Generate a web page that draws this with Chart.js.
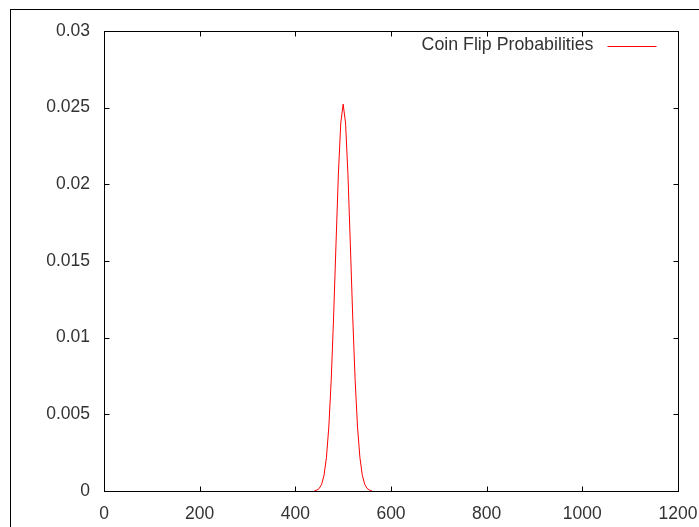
<!DOCTYPE html>
<html>
<head>
<meta charset="utf-8">
<script src="https://cdn.jsdelivr.net/npm/chart.js@4.4.1/dist/chart.umd.min.js"></script>
<style>
  body { margin: 0; background: #fff; }
  #wrap { position: relative; width: 699px; height: 527px; overflow: hidden; }
  #frame { position: absolute; left: 10px; top: 9px; right: 0; bottom: 0; border-top: 1px solid #000; border-left: 1px solid #000; }
  canvas { position: absolute; left: 0; top: 0; }
</style>
</head>
<body>
<div id="wrap">
  <div id="frame"></div>
  <canvas id="chart" width="699" height="527"></canvas>
</div>
<script>
// heads flipped out of 1000
const flips = [440, 445, 450, 455, 460, 465, 470, 475, 480, 485, 490, 495, 500,
               505, 510, 515, 520, 525, 530, 535, 540, 545, 550, 555, 560];
const probs = [0.00002, 0.00006, 0.00017, 0.00044, 0.00103, 0.00218, 0.00417, 0.00723,
               0.01134, 0.01609, 0.02066, 0.02400, 0.02523, 0.02400, 0.02066, 0.01609,
               0.01134, 0.00723, 0.00417, 0.00218, 0.00103, 0.00044, 0.00017, 0.00006, 0.00002];
const xTicks = [0, 200, 400, 600, 800, 1000, 1200];
const yTicks = [0, 0.005, 0.01, 0.015, 0.02, 0.025, 0.03];

const FONT = { family: '"Liberation Sans", Arial, sans-serif', size: 17.5 };

// gnuplot style box with inward ticks, plus the key in the top right corner
const boxPlugin = {
    id: 'box',
    afterDatasetsDraw(chart) {
        const ctx = chart.ctx;
        const a = chart.chartArea;
        const xs = chart.scales.x;
        const ys = chart.scales.y;
        const L = Math.round(a.left) + 0.5, R = Math.round(a.right) + 0.5;
        const T = Math.round(a.top) + 0.5, B = Math.round(a.bottom) + 0.5;
        ctx.save();
        ctx.strokeStyle = '#000';
        ctx.lineWidth = 1;
        ctx.strokeRect(L, T, R - L, B - T);
        ctx.beginPath();
        xTicks.forEach(v => {
            const px = Math.round(xs.getPixelForValue(v)) + 0.5;
            ctx.moveTo(px, B); ctx.lineTo(px, B - 5);
            ctx.moveTo(px, T); ctx.lineTo(px, T + 5);
        });
        yTicks.forEach(v => {
            const py = Math.round(ys.getPixelForValue(v)) + 0.5;
            ctx.moveTo(L, py); ctx.lineTo(L + 5, py);
            ctx.moveTo(R, py); ctx.lineTo(R - 5, py);
        });
        ctx.stroke();

        // key
        const ds = chart.data.datasets[0];
        const ky = T + 14;
        ctx.font = '17.8px ' + FONT.family;
        ctx.fillStyle = '#333';
        ctx.textAlign = 'right';
        ctx.textBaseline = 'middle';
        ctx.fillText(ds.label, R - 85, ky);
        ctx.strokeStyle = ds.borderColor;
        ctx.beginPath();
        ctx.moveTo(R - 71, Math.round(ky) + 0.5);
        ctx.lineTo(R - 22, Math.round(ky) + 0.5);
        ctx.stroke();
        ctx.restore();
    }
};

new Chart(document.getElementById('chart'), {
    type: 'line',
    data: {
        datasets: [{
            label: 'Coin Flip Probabilities',
            data: flips.map((f, i) => ({ x: f, y: probs[i] })),
            borderColor: '#ff0000',
            borderWidth: 1,
            pointRadius: 0,
            tension: 0,
            fill: false
        }]
    },
    options: {
        responsive: false,
        animation: false,
        devicePixelRatio: 1,
        layout: { padding: { left: 0, top: 31, right: 21, bottom: 0 } },
        plugins: { legend: { display: false }, tooltip: { enabled: false } },
        scales: {
            x: {
                type: 'linear',
                min: 0, max: 1200,
                afterBuildTicks: s => { s.ticks = xTicks.map(v => ({ value: v })); },
                afterFit: s => { s.height = 36; s.paddingLeft = 0; s.paddingRight = 0; },
                grid: { display: false, drawTicks: false },
                border: { display: false },
                ticks: { color: '#333', font: FONT, padding: 13, maxRotation: 0,
                         callback: v => String(v) }
            },
            y: {
                type: 'linear',
                min: 0, max: 0.03,
                afterBuildTicks: s => { s.ticks = yTicks.map(v => ({ value: v })); },
                afterFit: s => { s.width = 104; s.paddingTop = 0; s.paddingBottom = 0; },
                grid: { display: false, drawTicks: false },
                border: { display: false },
                ticks: { color: '#333', font: FONT, padding: 14,
                         callback: v => String(Number(v.toFixed(3))) }
            }
        }
    },
    plugins: [boxPlugin]
});
</script>
</body>
</html>
